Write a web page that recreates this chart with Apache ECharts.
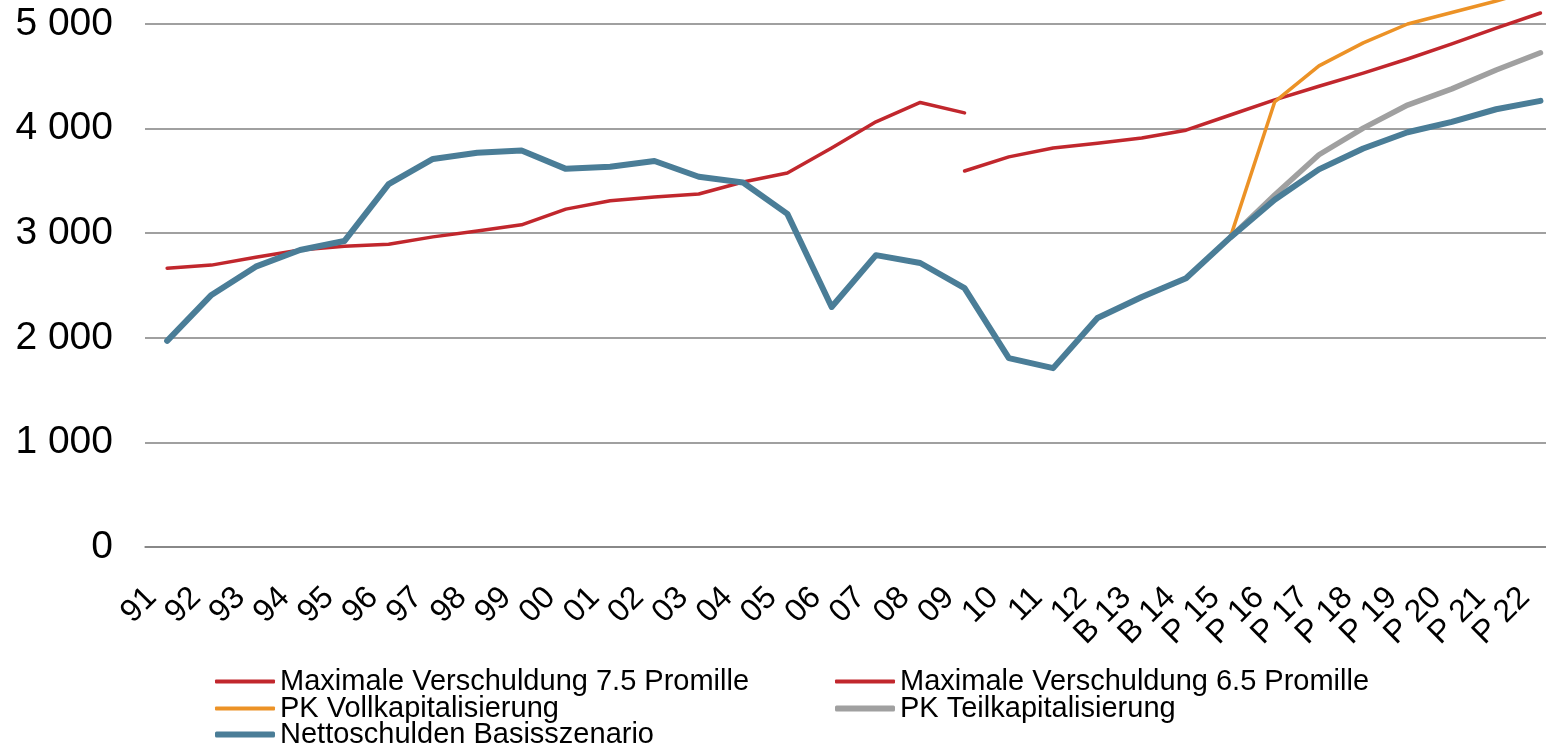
<!DOCTYPE html>
<html>
<head>
<meta charset="utf-8">
<script src="https://cdn.jsdelivr.net/npm/echarts@6/dist/echarts.min.js"></script>
<style>
html,body{margin:0;padding:0;background:#fff;}
#chart{width:1546px;height:749px;}
</style>
</head>
<body>
<div id="chart"></div>
<script>
const categories = ['91','92','93','94','95','96','97','98','99','00','01','02','03','04','05','06','07','08','09','10','11','12','B 13','B 14','P 15','P 16','P 17','P 18','P 19','P 20','P 21','P 22'];
const yTicks = [0, 1000, 2000, 3000, 4000, 5000];

const max75 = [2665,2695,2770,2840,2875,2895,2965,3020,3080,3230,3310,3345,3375,3490,3575,3815,4065,4250,4150,
  null,null,null,null,null,null,null,null,null,null,null,null,null];
const max65 = [null,null,null,null,null,null,null,null,null,null,null,null,null,null,null,null,null,null,
  3595,3730,3815,3860,3910,3985,4130,4275,4405,4530,4665,4810,4960,5105];
const voll = [null,null,null,null,null,null,null,null,null,null,null,null,null,null,null,null,null,null,null,null,null,null,null,null,
  2960,4255,4600,4820,5000,5110,5220,5340];
const teil = [null,null,null,null,null,null,null,null,null,null,null,null,null,null,null,null,null,null,null,null,null,null,null,null,
  2960,3365,3750,4005,4225,4380,4560,4725];
const netto = [1970,2410,2680,2840,2925,3470,3710,3770,3790,3615,3635,3690,3540,3485,3185,2295,2790,2715,2475,1805,1710,2190,2390,2570,
  2960,3320,3610,3810,3965,4065,4185,4265];

const names = ['Maximale Verschuldung 7.5 Promille','Maximale Verschuldung 6.5 Promille','PK Vollkapitalisierung','PK Teilkapitalisierung','Nettoschulden Basisszenario'];
const colors = ['#C1272D','#C1272D','#EC9226','#A0A0A0','#4A7D97'];
const widths = [3.5,3.5,3.5,5.5,6];
const seriesData = [max75, max65, voll, teil, netto];

const FONT = '"Liberation Sans", Arial, Helvetica, sans-serif';

function fmt(v){ return String(v).replace(/\B(?=(\d{3})+(?!\d))/g, ' '); }

const legendPos = [
  {left:215, top:667},
  {left:835, top:667},
  {left:215, top:694},
  {left:835, top:694},
  {left:215, top:720}
];

const legends = names.map((n,i)=>({
  data:[n],
  left: legendPos[i].left,
  top: legendPos[i].top,
  padding:0,
  icon:'roundRect',
  itemWidth:60,
  itemHeight: widths[i] > 4 ? 6 : 4,
  textStyle:{fontFamily:FONT,fontSize:29,color:'#000',lineHeight:26},
  selectedMode:false
}));

const chart = echarts.init(document.getElementById('chart'), null, {renderer:'canvas'});
chart.setOption({
  animation:false,
  backgroundColor:'#fff',
  grid:{left:145, width:1417.6, top:24, height:523, containLabel:false, outerBoundsMode:'none'},
  legend: legends,
  xAxis:{
    type:'category',
    data:categories,
    boundaryGap:true,
    axisLine:{show:true,lineStyle:{color:'#808080',width:1.5}},
    axisTick:{show:false},
    axisLabel:{
      interval:0, rotate:45, margin:30, padding:[0,22,0,0],
      fontFamily:FONT, fontSize:32, color:'#000'
    },
    splitLine:{show:false}
  },
  yAxis:{
    type:'value',
    min:yTicks[0], max:yTicks[yTicks.length-1], interval:1000,
    axisLine:{show:false},
    axisTick:{show:false},
    axisLabel:{margin:32, fontFamily:FONT, fontSize:39, color:'#000', formatter:fmt},
    splitLine:{show:true,lineStyle:{color:'#808080',width:1.5}}
  },
  series: names.map((n,i)=>({
    name:n,
    type:'line',
    data:seriesData[i],
    showSymbol:false,
    symbol:'none',
    clip: false,
    connectNulls:false,
    lineStyle:{color:colors[i], width:widths[i], cap:'round', join:'round'},
    itemStyle:{color:colors[i]}
  }))
});
</script>
</body>
</html>
